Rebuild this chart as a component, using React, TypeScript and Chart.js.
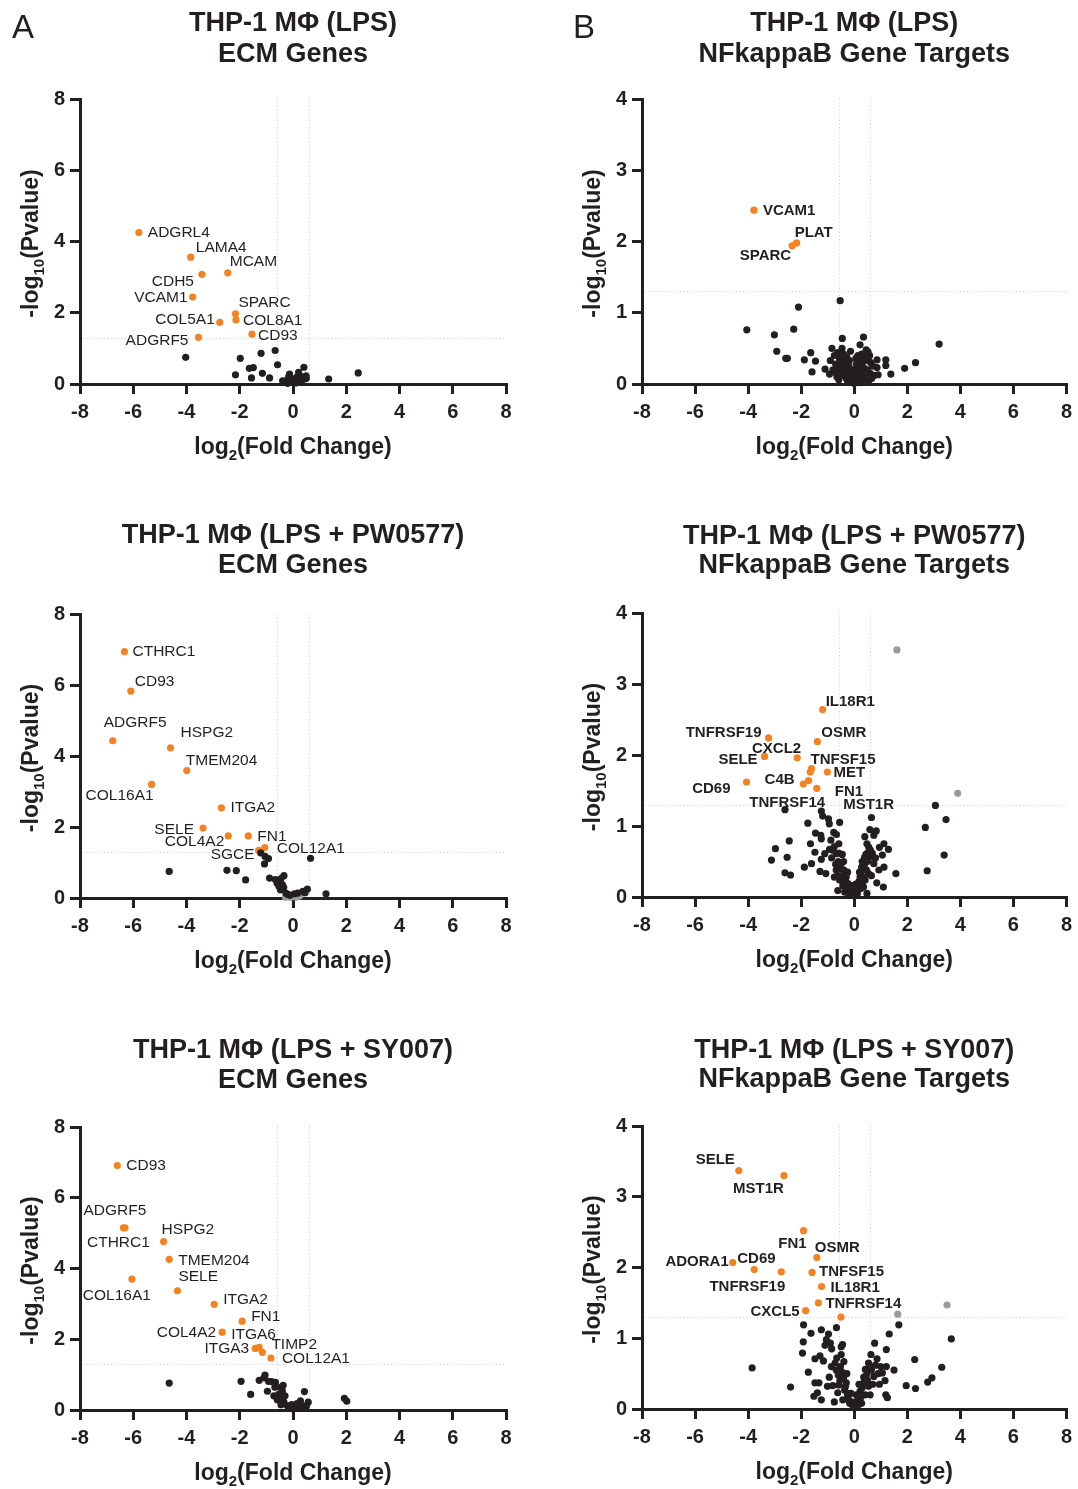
import React, { useEffect, useRef } from "react";
import { Chart, registerables } from "chart.js";

Chart.register(...registerables);

const FONT = '"Liberation Sans", Arial, Helvetica, sans-serif';
const INK = "#231f20";
const ORANGE = "#f58220";
const GRAY = "#9b9b9d";
const GUIDE = "#cfcfcf";

const FC_CUTOFF = [-0.585, 0.585];
const P_CUTOFF = 1.301;

type Pair = [number, number];
type LabelAt = ["l" | "r", number, number];

// ---------- Panel A1: THP-1 (LPS) ECM genes ----------
const ecmLpsGenes = ["ADGRL4", "LAMA4", "CDH5", "MCAM", "VCAM1", "SPARC", "COL8A1", "COL5A1", "CD93", "ADGRF5"];
const ecmLpsFC = [-5.79, -3.84, -3.42, -2.45, -3.77, -2.16, -2.14, -2.75, -1.54, -3.55];
const ecmLpsP = [4.25, 3.56, 3.08, 3.12, 2.44, 1.97, 1.8, 1.73, 1.4, 1.31];
const ecmLpsOther: Pair[] = [
  [-4.03, 0.75], [-1.98, 0.72], [-1.2, 0.86], [-0.67, 0.94], [-0.58, 0.54], [-1.64, 0.44], [-1.49, 0.46],
  [-2.16, 0.26], [-1.56, 0.17], [-1.15, 0.3], [-0.88, 0.17], [0.41, 0.47], [0.21, 0.33], [0.49, 0.23],
  [1.34, 0.14], [2.45, 0.31], [-0.26, 0.09], [-0.13, 0.28], [-0.06, 0.14], [0.06, 0.09], [0.26, 0.14],
  [0.45, 0.14], [-0.32, 0.05], [0, 0.05], [0.13, 0.19], [-0.16, 0.21], [0.32, 0.09], [-0.39, 0.09],
  [-0.2, 0.02], [0.1, 0.03], [0.2, 0.06], [-0.1, 0.06], [0.38, 0.2], [0.5, 0.16],
];
const ecmLpsGray: Pair[] = [];
const ecmLpsLabelAt: LabelAt[] = [
  ["l", 9, 0], ["l", 5, -9], ["r", -8, 7], ["l", 2, -11], ["r", -5, 1],
  ["l", 3, -11], ["l", 7, 1], ["r", -5, -3], ["l", 6, 2], ["r", -10, 3],
];

// ---------- Panel B1: THP-1 (LPS) NFkappaB targets ----------
const nfLpsGenes = ["VCAM1", "PLAT", "SPARC"];
const nfLpsFC = [-3.78, -2.17, -2.34];
const nfLpsP = [2.44, 1.98, 1.94];
const nfLpsOther: Pair[] = [
  [-0.53, 1.17], [-2.1, 1.08], [-4.05, 0.76], [-2.28, 0.77], [-3.01, 0.69], [-2.92, 0.46], [-2.58, 0.36],
  [-2.52, 0.36], [-1.88, 0.34], [-1.64, 0.44], [-1.46, 0.32], [-1.59, 0.17], [-1.1, 0.21], [-0.84, 0.5],
  [-0.9, 0.33], [-0.93, 0.14], [-0.45, 0.64], [0.35, 0.66], [0.22, 0.55], [0.52, 0.45], [-0.14, 0.46],
  [0.86, 0.34], [1.19, 0.34], [0.86, 0.23], [1.19, 0.26], [0.9, 0.13], [1.38, 0.14], [1.9, 0.22],
  [2.31, 0.3], [3.2, 0.56], [0.54, 0.33], [-0.46, 0.5], [-0.4, 0.42], [-0.55, 0.35], [-0.7, 0.28],
  [-0.6, 0.22], [-0.5, 0.18], [-0.35, 0.3], [-0.3, 0.22], [-0.25, 0.15], [-0.2, 0.1], [-0.15, 0.06],
  [-0.1, 0.03], [-0.42, 0.12], [-0.65, 0.1], [-0.8, 0.2], [-0.3, 0.08], [0.05, 0.02], [0.1, 0.05],
  [0.15, 0.08], [0.2, 0.12], [0.25, 0.18], [0.3, 0.25], [0.35, 0.32], [0.4, 0.4], [0.45, 0.48],
  [0.12, 0.25], [0.28, 0.42], [0.5, 0.2], [0.6, 0.15], [0.7, 0.25], [0.4, 0.1], [0.3, 0.05],
  [0, 0.01], [-0.05, 0.04], [0.18, 0.35], [0.62, 0.3], [0.75, 0.12], [-0.75, 0.4], [0.55, 0.05],
  [-0.2, 0.25], [0.08, 0.15], [-0.38, 0.35], [-0.28, 0.38], [-0.18, 0.33], [-0.08, 0.2], [0.02, 0.1],
  [0.08, 0.28], [0.14, 0.4], [0.26, 0.3], [0.38, 0.22], [0.48, 0.35], [0.58, 0.4], [0.66, 0.08],
  [-0.62, 0.44], [-0.52, 0.28], [-0.44, 0.22], [-0.36, 0.16], [-0.26, 0.05], [-0.12, 0.13], [0.22, 0.02],
  [0.34, 0.12], [0.44, 0.03], [-0.68, 0.15], [-0.58, 0.06], [-0.48, 0.4], [0.06, 0.36], [0.16, 0.18],
];
const nfLpsGray: Pair[] = [];
const nfLpsLabelAt: LabelAt[] = [["l", 9, 1], ["l", -2, -10], ["r", -1, 10]];

// ---------- Panel A2: THP-1 (LPS + PW0577) ECM genes ----------
const ecmPwGenes = ["CTHRC1", "CD93", "ADGRF5", "HSPG2", "TMEM204", "COL16A1", "ITGA2", "SELE", "COL4A2", "FN1", "COL12A1", "SGCE"];
const ecmPwFC = [-6.33, -6.09, -6.77, -4.6, -3.99, -5.31, -2.69, -3.38, -2.43, -1.68, -1.06, -1.29];
const ecmPwP = [6.94, 5.83, 4.43, 4.23, 3.59, 3.2, 2.54, 1.97, 1.75, 1.75, 1.42, 1.34];
const ecmPwOther: Pair[] = [
  [-4.65, 0.75], [-2.48, 0.78], [-2.13, 0.77], [-1.78, 0.51], [-1.21, 1.27], [-1.05, 1.17], [-0.92, 1.11],
  [-1.07, 0.96], [0.66, 1.12], [-0.88, 0.56], [-0.66, 0.52], [-0.56, 0.47], [-0.34, 0.63], [-0.4, 0.38],
  [-0.47, 0.23], [-0.27, 0.14], [-0.53, 0.33], [0.54, 0.25], [0.37, 0.19], [0.18, 0.14], [1.24, 0.12],
  [-0.6, 0.42], [-0.45, 0.55], [-0.35, 0.3], [-0.2, 0.1], [0.45, 0.15], [0.05, 0.12], [-0.12, 0.08],
];
const ecmPwGray: Pair[] = [
  [-0.2, 0.05], [0, 0.05], [0.18, 0.05], [-0.1, 0.02], [0.1, 0.02], [0.25, 0.06], [-0.28, 0.02], [0.05, 0.08],
];
const ecmPwLabelAt: LabelAt[] = [
  ["l", 8, 0], ["l", 4, -9], ["l", -9, -18], ["l", 10, -15], ["l", -1, -10], ["r", 2, 11],
  ["l", 9, 0], ["r", -9, 2], ["r", -4, 6], ["l", 9, 1], ["l", 12, 1], ["r", -4, 4],
];

// ---------- Panel B2: THP-1 (LPS + PW0577) NFkappaB targets ----------
const nfPwGenes = ["IL18R1", "TNFRSF19", "OSMR", "SELE", "CXCL2", "TNFSF15", "MST1R", "MET", "C4B", "TNFRSF14", "CD69", "FN1"];
const nfPwFC = [-1.19, -3.23, -1.39, -3.38, -2.15, -1.61, -1.66, -1.01, -1.72, -1.92, -4.06, -1.41];
const nfPwP = [2.64, 2.24, 2.19, 1.98, 1.96, 1.81, 1.76, 1.76, 1.64, 1.59, 1.62, 1.53];
const nfPwOther: Pair[] = [
  [3.06, 1.29], [3.46, 1.09], [2.68, 0.98], [3.39, 0.59], [2.75, 0.37], [-2.61, 1.23], [-1.24, 1.21],
  [-1.19, 1.14], [-0.97, 1.1], [-0.55, 1.05], [-0.94, 1.03], [-1.75, 1.04], [0.65, 1.12], [0.59, 0.95],
  [0.83, 0.93], [0.74, 0.87], [-1.46, 0.9], [-1.26, 0.87], [-0.77, 0.91], [-0.67, 0.88], [-1.24, 0.82],
  [-2.45, 0.79], [-1.65, 0.75], [-0.58, 0.75], [-2.97, 0.68], [-0.93, 0.67], [-0.75, 0.71], [-1.48, 0.63],
  [-0.67, 0.61], [-1.11, 0.61], [-2.53, 0.56], [-3.12, 0.52], [-1.24, 0.53], [-1.61, 0.47], [-1.88, 0.42],
  [-1.29, 0.36], [-1.07, 0.33], [-2.61, 0.34], [-2.4, 0.31], [-0.62, 0.09], [1.12, 0.75], [1.29, 0.67],
  [1.06, 0.59], [1.12, 0.42], [0.93, 0.38], [1.57, 0.33], [1.1, 0.14], [0.48, 0.75], [0.61, 0.66],
  [0.39, 0.56], [0.28, 0.42], [0.22, 0.28], [0.74, 0.47], [0.54, 0.33], [0.41, 0.24], [0.35, 0.14],
  [0.48, 0.05], [-0.49, 0.47], [-0.39, 0.38], [-0.3, 0.28], [-0.23, 0.19], [-0.17, 0.09], [-0.68, 0.38],
  [-0.75, 0.28], [-0.55, 0.24], [-0.43, 0.16], [-0.36, 0.07], [-0.08, 0.05], [0, 0.02], [0.09, 0.07],
  [0.15, 0.16], [0.03, 0.12], [-0.1, 0.16], [-0.85, 0.55], [-0.45, 0.6], [0.3, 0.5], [0.5, 0.62],
  [0.2, 0.35], [-0.25, 0.35], [0.65, 0.3], [0.85, 0.2], [-0.6, 0.5], [0.4, 0.85], [0.55, 0.7],
  [-0.52, 0.4], [-0.46, 0.3], [-0.34, 0.22], [-0.28, 0.12], [-0.2, 0.04], [-0.62, 0.3], [-0.7, 0.46],
  [-0.58, 0.62], [-0.8, 0.66], [0.26, 0.35], [0.32, 0.28], [0.38, 0.44], [0.44, 0.6], [0.5, 0.5],
  [0.18, 0.22], [0.12, 0.05], [0.24, 0.12], [0.3, 0.2], [0.58, 0.56], [0.68, 0.62], [0.46, 0.38],
  [-0.14, 0.12], [-0.05, 0.09], [0.06, 0.18], [-0.4, 0.5], [-0.88, 0.8], [0.8, 0.55], [0.95, 0.7],
];
const nfPwGray: Pair[] = [[1.61, 3.48], [3.9, 1.46]];
const nfPwLabelAt: LabelAt[] = [
  ["l", 3, -8], ["r", -7, -5], ["l", 4, -9], ["r", -7, 3], ["r", 4, -9], ["l", -1, -9],
  ["l", 33, 33], ["l", 6, 1], ["r", -14, -1], ["l", -54, 19], ["r", -16, 7], ["l", 18, 3],
];

// ---------- Panel A3: THP-1 (LPS + SY007) ECM genes ----------
const ecmSyGenes = ["CD93", "ADGRF5", "CTHRC1", "HSPG2", "TMEM204", "COL16A1", "SELE", "ITGA2", "FN1", "COL4A2", "ITGA6", "ITGA3", "TIMP2", "COL12A1"];
const ecmSyFC = [-6.6, -6.37, -6.31, -4.86, -4.65, -6.05, -4.34, -2.96, -1.91, -2.66, -1.27, -1.42, -1.15, -0.83];
const ecmSyP = [6.91, 5.15, 5.15, 4.76, 4.26, 3.7, 3.37, 2.99, 2.51, 2.2, 1.77, 1.74, 1.63, 1.47];
const ecmSyOther: Pair[] = [
  [-4.65, 0.76], [-1.95, 0.81], [-1.59, 0.44], [-1.27, 0.84], [-1.05, 0.99], [-1.09, 0.91], [-0.92, 0.81],
  [-0.66, 0.78], [-0.47, 0.64], [-0.37, 0.7], [-0.4, 0.54], [-0.53, 0.45], [-0.96, 0.53], [-0.72, 0.4],
  [-0.59, 0.29], [-0.34, 0.22], [-0.21, 0.12], [-0.68, 0.64], [0.43, 0.52], [0.28, 0.26], [0.57, 0.22],
  [0.37, 0.12], [1.93, 0.33], [2.02, 0.25], [0, 0.03], [0.12, 0.08], [-0.12, 0.05], [0.25, 0.05],
  [-0.8, 0.8], [-0.5, 0.35], [-0.3, 0.4], [-0.45, 0.15], [0.5, 0.1], [0.15, 0.18], [-0.05, 0.15],
];
const ecmSyGray: Pair[] = [];
const ecmSyLabelAt: LabelAt[] = [
  ["l", 9, 0], ["l", -40, -17], ["l", -38, 15], ["l", -2, -12], ["l", 9, 1], ["r", 19, 17], ["l", 1, -14],
  ["l", 9, -5], ["l", 9, -4], ["r", -6, 1], ["l", -28, -13], ["r", -6, 0], ["l", 9, -8], ["l", 11, 1],
];

// ---------- Panel B3: THP-1 (LPS + SY007) NFkappaB targets ----------
const nfSyGenes = ["SELE", "MST1R", "FN1", "OSMR", "ADORA1", "CD69", "TNFRSF19", "TNFSF15", "IL18R1", "TNFRSF14", "CXCL5", ""];
const nfSyFC = [-4.35, -2.65, -1.91, -1.41, -4.58, -3.77, -2.75, -1.59, -1.23, -1.35, -1.83, -0.5];
const nfSyP = [3.37, 3.3, 2.52, 2.14, 2.07, 1.97, 1.94, 1.93, 1.73, 1.5, 1.39, 1.3];
const nfSyOther: Pair[] = [
  [-3.85, 0.58], [-2.4, 0.31], [-1.91, 1.19], [-1.92, 0.95], [-1.95, 0.79], [-1.73, 0.52], [-1.63, 1.07],
  [-1.24, 1.12], [-0.97, 1.06], [-0.67, 1.15], [-0.9, 0.93], [-0.85, 0.85], [-1.29, 0.75], [-1.48, 0.71],
  [-1.16, 0.68], [-0.49, 0.88], [-0.44, 0.91], [-0.49, 0.77], [-0.39, 0.67], [-0.72, 0.65], [-0.68, 0.55],
  [-0.94, 0.45], [-1.48, 0.37], [-1.33, 0.37], [-1.01, 0.32], [-0.81, 0.33], [-1.52, 0.18], [-1.24, 0.13],
  [-1.39, 0.23], [-0.54, 0.41], [-0.36, 0.27], [-0.23, 0.18], [-0.17, 0.08], [-0.52, 0.6], [1.68, 1.19],
  [1.32, 1.06], [0.77, 0.93], [1.21, 0.84], [0.63, 0.77], [0.86, 0.71], [1.21, 0.6], [1.5, 0.55],
  [1.06, 0.51], [1.16, 0.4], [1.96, 0.33], [2.28, 0.7], [2.31, 0.29], [2.77, 0.38], [2.93, 0.44],
  [3.3, 0.59], [3.66, 0.99], [1.19, 0.2], [1.25, 0.16], [0.54, 0.65], [0.48, 0.51], [0.35, 0.37],
  [0.22, 0.25], [0.13, 0.13], [0.74, 0.46], [0.54, 0.32], [0.41, 0.2], [0.28, 0.08], [0.03, 0.04],
  [-0.08, 0.06], [-0.3, 0.37], [-0.62, 0.23], [-0.43, 0.13], [-1.1, 0.9], [-1.05, 0.98], [-0.6, 0.48],
  [0.65, 0.55], [0.9, 0.5], [0.45, 0.45], [-0.28, 0.5], [0.18, 0.35], [-0.12, 0.22], [0.6, 0.2], [0.95, 0.35],
  [-0.46, 0.52], [-0.4, 0.44], [-0.33, 0.32], [-0.26, 0.22], [-0.2, 0.12], [-0.58, 0.34], [-0.66, 0.72],
  [0.3, 0.3], [0.36, 0.45], [0.42, 0.56], [0.5, 0.4], [0.58, 0.6], [0.24, 0.16], [0.16, 0.06],
  [0.7, 0.35], [0.8, 0.62], [1.0, 0.6], [-0.1, 0.1], [0.08, 0.2], [-0.75, 0.1], [-0.86, 0.6],
];
const nfSyGray: Pair[] = [[1.64, 1.34], [3.5, 1.47]];
const nfSyLabelAt: LabelAt[] = [
  ["r", -4, -11], ["r", 0, 13], ["r", 3, 13], ["l", -2, -10], ["r", -4, -1], ["l", -17, -11],
  ["r", 4, 15], ["l", 7, -1], ["l", 9, 1], ["l", 7, 1], ["r", -6, 1], ["l", 0, 0],
];

// ---------- Layout ----------
interface Col { canvasLeft: number; canvasW: number; plotLeft: number; plotRight: number; labelFont: string }
interface PanelSpec {
  col: Col;
  canvasTop: number;
  canvasH: number;
  plotTop: number;
  plotBottom: number;
  titleBase: [number, number];
  title: [string, string];
  yMax: number;
  yStep: number;
  letter?: { text: string; x: number; y: number };
  genes: string[];
  fc: number[];
  p: number[];
  other: Pair[];
  gray: Pair[];
  labelAt: LabelAt[];
}

const LEFT: Col = { canvasLeft: 0, canvasW: 540, plotLeft: 80, plotRight: 506, labelFont: `15.5px ${FONT}` };
const RIGHT: Col = { canvasLeft: 540, canvasW: 538, plotLeft: 642, plotRight: 1068, labelFont: `bold 15px ${FONT}` };

const PANELS: PanelSpec[] = [
  { col: LEFT, canvasTop: 0, canvasH: 495, plotTop: 99, plotBottom: 384, titleBase: [31, 62], title: ["THP-1 MΦ (LPS)", "ECM Genes"], yMax: 8, yStep: 2, letter: { text: "A", x: 12, y: 38 }, genes: ecmLpsGenes, fc: ecmLpsFC, p: ecmLpsP, other: ecmLpsOther, gray: ecmLpsGray, labelAt: ecmLpsLabelAt },
  { col: RIGHT, canvasTop: 0, canvasH: 495, plotTop: 99, plotBottom: 384, titleBase: [31, 62], title: ["THP-1 MΦ (LPS)", "NFkappaB Gene Targets"], yMax: 4, yStep: 1, letter: { text: "B", x: 573, y: 38 }, genes: nfLpsGenes, fc: nfLpsFC, p: nfLpsP, other: nfLpsOther, gray: nfLpsGray, labelAt: nfLpsLabelAt },
  { col: LEFT, canvasTop: 495, canvasH: 510, plotTop: 614, plotBottom: 898, titleBase: [543, 573], title: ["THP-1 MΦ (LPS + PW0577)", "ECM Genes"], yMax: 8, yStep: 2, genes: ecmPwGenes, fc: ecmPwFC, p: ecmPwP, other: ecmPwOther, gray: ecmPwGray, labelAt: ecmPwLabelAt },
  { col: RIGHT, canvasTop: 495, canvasH: 510, plotTop: 613, plotBottom: 897, titleBase: [544, 573], title: ["THP-1 MΦ (LPS + PW0577)", "NFkappaB Gene Targets"], yMax: 4, yStep: 1, genes: nfPwGenes, fc: nfPwFC, p: nfPwP, other: nfPwOther, gray: nfPwGray, labelAt: nfPwLabelAt },
  { col: LEFT, canvasTop: 1005, canvasH: 484, plotTop: 1127, plotBottom: 1410, titleBase: [1058, 1088], title: ["THP-1 MΦ (LPS + SY007)", "ECM Genes"], yMax: 8, yStep: 2, genes: ecmSyGenes, fc: ecmSyFC, p: ecmSyP, other: ecmSyOther, gray: ecmSyGray, labelAt: ecmSyLabelAt },
  { col: RIGHT, canvasTop: 1005, canvasH: 484, plotTop: 1126, plotBottom: 1409, titleBase: [1058, 1087], title: ["THP-1 MΦ (LPS + SY007)", "NFkappaB Gene Targets"], yMax: 4, yStep: 1, genes: nfSyGenes, fc: nfSyFC, p: nfSyP, other: nfSyOther, gray: nfSyGray, labelAt: nfSyLabelAt },
];

type Run = { t: string; sub?: boolean };

function drawRuns(ctx: CanvasRenderingContext2D, runs: Run[], size: number, x: number, y: number) {
  const big = `bold ${size}px ${FONT}`;
  const small = `bold ${Math.round(size * 0.66)}px ${FONT}`;
  const widths = runs.map((r) => {
    ctx.font = r.sub ? small : big;
    return ctx.measureText(r.t).width;
  });
  const total = widths.reduce((a, b) => a + b, 0);
  let cx = x - total / 2;
  ctx.textAlign = "left";
  ctx.textBaseline = "alphabetic";
  runs.forEach((r, i) => {
    ctx.font = r.sub ? small : big;
    ctx.fillText(r.t, cx, r.sub ? y + size * 0.27 : y);
    cx += widths[i];
  });
}

function makeDecor(spec: PanelSpec) {
  const ox = spec.col.canvasLeft;
  const oy = spec.canvasTop;
  return {
    id: "volcanoDecor",
    beforeDatasetsDraw(chart: any) {
      const { ctx, chartArea: a } = chart;
      const xs = chart.scales.x;
      const ys = chart.scales.y;
      ctx.save();
      ctx.strokeStyle = GUIDE;
      ctx.lineWidth = 1;
      ctx.setLineDash([1, 2.5]);
      for (const v of FC_CUTOFF) {
        const px = Math.round(xs.getPixelForValue(v)) + 0.5;
        ctx.beginPath();
        ctx.moveTo(px, a.top);
        ctx.lineTo(px, a.bottom - 2);
        ctx.stroke();
      }
      const py = Math.round(ys.getPixelForValue(P_CUTOFF)) + 0.5;
      ctx.beginPath();
      ctx.moveTo(a.left + 3, py);
      ctx.lineTo(a.right, py);
      ctx.stroke();
      ctx.restore();
    },
    afterDraw(chart: any) {
      const { ctx, chartArea: a } = chart;
      const xs = chart.scales.x;
      const ys = chart.scales.y;
      ctx.save();
      ctx.fillStyle = INK;
      ctx.font = spec.col.labelFont;
      ctx.textBaseline = "middle";
      spec.genes.forEach((g, i) => {
        if (!g) return;
        const [al, dx, dy] = spec.labelAt[i];
        ctx.textAlign = al === "l" ? "left" : "right";
        ctx.fillText(g, xs.getPixelForValue(spec.fc[i]) + dx, ys.getPixelForValue(spec.p[i]) + dy);
      });
      const cx = (a.left + a.right) / 2;
      ctx.textAlign = "center";
      ctx.textBaseline = "alphabetic";
      ctx.font = `bold 27px ${FONT}`;
      ctx.fillText(spec.title[0], cx, spec.titleBase[0] - oy);
      ctx.fillText(spec.title[1], cx, spec.titleBase[1] - oy);
      drawRuns(ctx, [{ t: "log" }, { t: "2", sub: true }, { t: "(Fold Change)" }], 23, cx, a.bottom + 70);
      ctx.save();
      ctx.translate(a.left - 42, (a.top + a.bottom) / 2 + 2);
      ctx.rotate(-Math.PI / 2);
      drawRuns(ctx, [{ t: "-log" }, { t: "10", sub: true }, { t: "(Pvalue)" }], 23, 0, 0);
      ctx.restore();
      if (spec.letter) {
        ctx.font = `33px ${FONT}`;
        ctx.textAlign = "left";
        ctx.textBaseline = "alphabetic";
        ctx.fillText(spec.letter.text, spec.letter.x - ox, spec.letter.y - oy);
      }
      ctx.restore();
    },
  };
}

function Panel({ spec }: { spec: PanelSpec }) {
  const ref = useRef<HTMLCanvasElement | null>(null);
  useEffect(() => {
    const canvas = ref.current;
    if (!canvas) return;
    const c = spec.col;
    const yAxisW = c.plotLeft - c.canvasLeft;
    const xAxisH = 40;
    const padTop = spec.plotTop - spec.canvasTop;
    const padRight = c.canvasW - (c.plotRight - c.canvasLeft);
    const padBottom = spec.canvasH - (spec.plotBottom - spec.canvasTop) - xAxisH;
    const pts = (xs: number[], ys: number[]) => xs.map((v, i) => ({ x: v, y: ys[i] }));
    const pairs = (arr: Pair[]) => arr.map(([x, y]) => ({ x, y }));
    const tickFont = { family: FONT, size: 20, weight: "bold" as const };
    const dot = { pointRadius: 3.6, pointHoverRadius: 3.6, borderWidth: 0, clip: false as const };
    const chart = new Chart(canvas, {
      type: "scatter",
      data: {
        datasets: [
          { data: pairs(spec.other), backgroundColor: INK, ...dot },
          { data: pairs(spec.gray), backgroundColor: GRAY, ...dot },
          { data: pts(spec.fc, spec.p), backgroundColor: ORANGE, ...dot },
        ],
      },
      options: {
        animation: false,
        responsive: false,
        maintainAspectRatio: false,
        devicePixelRatio: 1,
        events: [],
        layout: { padding: { left: 0, top: padTop, right: padRight, bottom: padBottom } },
        plugins: { legend: { display: false }, tooltip: { enabled: false }, title: { display: false } },
        scales: {
          x: {
            type: "linear",
            min: -8,
            max: 8,
            ticks: { stepSize: 2, font: tickFont, color: INK, padding: 6, maxRotation: 0, autoSkip: false },
            grid: { drawOnChartArea: false, drawTicks: true, tickLength: 10, lineWidth: 3, tickWidth: 3, color: INK, tickColor: INK },
            border: { display: true, width: 3, color: INK },
            afterFit: (s: any) => { s.height = xAxisH; },
          },
          y: {
            type: "linear",
            min: 0,
            max: spec.yMax,
            ticks: { stepSize: spec.yStep, font: tickFont, color: INK, padding: 5, autoSkip: false },
            grid: { drawOnChartArea: false, drawTicks: true, tickLength: 10, lineWidth: 3, tickWidth: 3, color: INK, tickColor: INK },
            border: { display: true, width: 3, color: INK },
            afterFit: (s: any) => { s.width = yAxisW; },
          },
        },
      } as any,
      plugins: [makeDecor(spec) as any],
    });
    return () => chart.destroy();
  }, [spec]);
  return (
    <canvas
      ref={ref}
      width={spec.col.canvasW}
      height={spec.canvasH}
      style={{ position: "absolute", left: spec.col.canvasLeft, top: spec.canvasTop, width: spec.col.canvasW, height: spec.canvasH }}
    />
  );
}

export default function App() {
  return (
    <div style={{ position: "absolute", left: 0, top: 0, width: 1078, height: 1489, background: "#ffffff", overflow: "hidden" }}>
      {PANELS.map((s, i) => (
        <Panel key={i} spec={s} />
      ))}
    </div>
  );
}
